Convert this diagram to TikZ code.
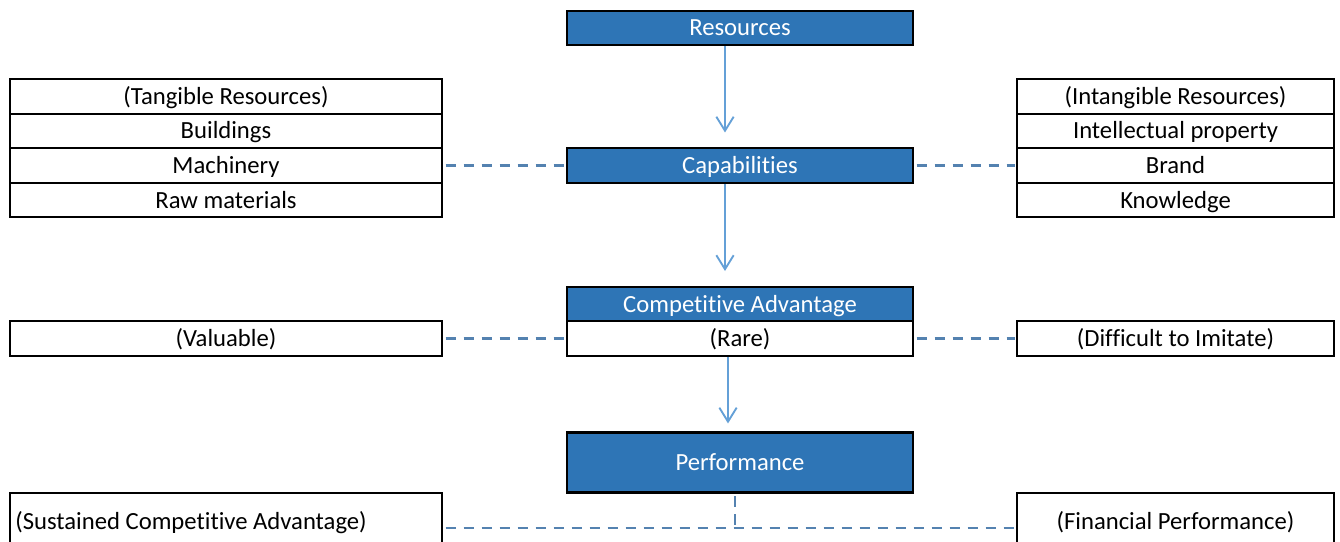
\documentclass[tikz,border=0pt]{standalone}
\usepackage{fontspec}
\setmainfont{Carlito}[Ligatures=NoCommon]
\usetikzlibrary{arrows.meta}
\definecolor{boxblue}{RGB}{46,117,182}
\definecolor{arrowblue}{RGB}{100,160,215}
\definecolor{dashblue}{RGB}{84,130,176}
\tikzset{
  cell/.style={draw=black, line width=1.6pt, fill=white, text=black, inner sep=2pt,
    minimum height=25.9pt, text height=15pt, text depth=3pt,
    font=\fontsize{18.5}{20}\selectfont},
  bluebox/.style={cell, fill=boxblue, text=white, minimum width=259.5pt},
  leftcell/.style={cell, minimum width=324pt},
  rightcell/.style={cell, minimum width=237.75pt},
  dashline/.style={draw=dashblue, line width=1.7pt, dash pattern=on 8pt off 5.5pt},
  flowarrow/.style={draw=arrowblue, line width=1.4pt, -{Straight Barb[length=10.5pt,width=13pt]}}
}
\begin{document}
\begin{tikzpicture}[x=0.75pt,y=0.75pt,yscale=-1,xscale=1]
\clip (0,0) rectangle (1340,542);
\fill[white] (0,0) rectangle (1340,542);
%Centre column
\node[bluebox] (res) at (740,28) {Resources};
\node[bluebox] (cap) at (740,165.5) {Capabilities};
\node[bluebox] (ca) at (740,304) {Competitive Advantage};
\node[cell, minimum width=259.5pt] (rare) at (740,338.5) {(Rare)};
\node[bluebox, minimum height=45pt] (perf) at (740,462.5) {Performance};
%Tangible resources
\node[leftcell] (tang) at (226,96.5) {(Tangible Resources)};
\node[leftcell] (build) at (226,131) {Buildings};
\node[leftcell] (mach) at (226,165.5) {Machinery};
\node[leftcell] (raw) at (226,200) {Raw materials};
%Intangible resources
\node[rightcell] (intang) at (1175.5,96.5) {(Intangible Resources)};
\node[rightcell] (ip) at (1175.5,131) {Intellectual property};
\node[rightcell] (brand) at (1175.5,165.5) {Brand};
\node[rightcell] (know) at (1175.5,200) {Knowledge};
%Attributes
\node[leftcell] (val) at (226,338.5) {(Valuable)};
\node[rightcell] (diff) at (1175.5,338.5) {(Difficult to Imitate)};
%Outcomes
\node[leftcell, minimum height=42pt] (sust) at (226,521) {\makebox[316pt][l]{(Sustained Competitive Advantage)}};
\node[rightcell, minimum height=42pt] (fin) at (1175.5,521) {(Financial Performance)};
\coordinate (join) at (735,528);
%Arrows
\draw[flowarrow, shorten >=11pt] ([xshift=-11.25pt]res.south) -- ([xshift=-11.25pt]cap.north);
\draw[flowarrow, shorten >=11pt] ([xshift=-11.25pt]cap.south) -- ([xshift=-11.25pt]ca.north);
\draw[flowarrow, shorten >=6pt] ([xshift=-9pt]rare.south) -- ([xshift=-9pt]perf.north);
%Dashed links
\draw[dashline, shorten <=2pt, shorten >=1pt] (mach.east) -- (cap.west);
\draw[dashline, shorten <=2pt, shorten >=1pt] (cap.east) -- (brand.west);
\draw[dashline, shorten <=2pt, shorten >=1pt] (val.east) -- (rare.west);
\draw[dashline, shorten <=2pt, shorten >=1pt] (rare.east) -- (diff.west);
\draw[dashline, shorten <=2pt] (perf.south -| join) -- (join);
\draw[dashline, shorten <=2pt, shorten >=1pt] (sust.east |- join) -- (fin.west |- join);
\end{tikzpicture}
\end{document}
